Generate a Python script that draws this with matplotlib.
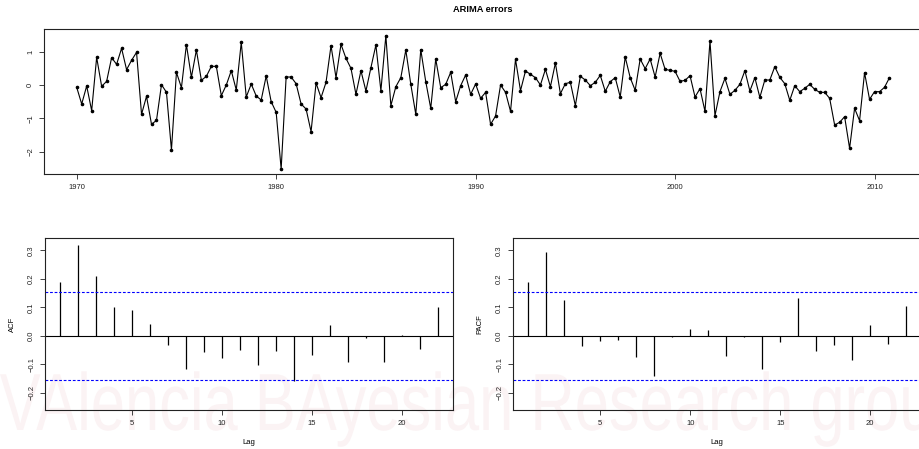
import numpy as np
import matplotlib
matplotlib.use("Agg")
import matplotlib.pyplot as plt
from matplotlib.textpath import TextPath
from matplotlib.patches import PathPatch
from matplotlib.font_manager import FontProperties
from matplotlib.transforms import Affine2D, IdentityTransform

plt.rcParams['font.family'] = ['Liberation Sans', 'DejaVu Sans']

# ---- data ----
start_year = 1970
freq = 4
errors = [
    -0.07, -0.57, -0.03, -0.77, 0.83, -0.04, 0.11, 0.82, 0.62, 1.10,
    0.46, 0.74, 0.98, -0.88, -0.34, -1.18, -1.06, 0.01, -0.22, -1.95,
    0.38, -0.08, 1.21, 0.23, 1.05, 0.14, 0.26, 0.56, 0.56, -0.32,
    0.00, 0.43, -0.15, 1.28, -0.36, 0.03, -0.33, -0.45, 0.27, -0.50,
    -0.82, -2.52, 0.24, 0.24, 0.04, -0.57, -0.72, -1.40, 0.06, -0.38,
    0.08, 1.18, 0.22, 1.22, 0.80, 0.50, -0.28, 0.43, -0.18, 0.52,
    1.20, -0.17, 1.48, -0.62, -0.05, 0.22, 1.05, 0.02, -0.88, 1.06,
    0.10, -0.70, 0.78, -0.08, 0.02, 0.38, -0.50, -0.02, 0.30, -0.28,
    0.03, -0.40, -0.22, -1.18, -0.93, 0.00, -0.22, -0.79, 0.77, -0.17,
    0.42, 0.32, 0.22, 0.00, 0.47, -0.05, 0.66, -0.26, 0.04, 0.08,
    -0.62, 0.26, 0.15, -0.02, 0.08, 0.29, -0.19, 0.10, 0.22, -0.36,
    0.84, 0.22, -0.16, 0.78, 0.49, 0.78, 0.24, 0.95, 0.47, 0.44,
    0.41, 0.11, 0.14, 0.28, -0.36, -0.11, -0.79, 1.32, -0.92, -0.20,
    0.20, -0.28, -0.16, 0.02, 0.43, -0.18, 0.22, -0.37, 0.15, 0.15,
    0.55, 0.23, 0.04, -0.46, -0.02, -0.20, -0.10, 0.02, -0.13, -0.22,
    -0.22, -0.40, -1.20, -1.12, -0.95, -1.90, -0.70, -1.07, 0.37, -0.43,
    -0.20, -0.20, -0.07, 0.22,
]
lags = list(range(1, 23))
acf_vals = [0.189, 0.320, 0.209, 0.103, 0.091, 0.043, -0.032, -0.116, -0.055, -0.076,
            -0.050, -0.102, -0.053, -0.157, -0.068, 0.039, -0.090, -0.009, -0.091, 0.003,
            -0.046, 0.101]
pacf_vals = [0.189, 0.295, 0.125, -0.036, -0.019, -0.013, -0.073, -0.141, -0.005, 0.025,
             0.021, -0.072, -0.005, -0.117, -0.020, 0.134, -0.053, -0.033, -0.086, 0.039,
             -0.027, 0.106]
year_ticks = [1970, 1980, 1990, 2000, 2010]
ts_yticks = [-2, -1, 0, 1]
acf_yticks = [-0.2, -0.1, 0.0, 0.1, 0.2, 0.3]
lag_ticks = [5, 10, 15, 20]
title = "ARIMA errors"
watermark = "VAlencia BAyesian Research group"

W, H = 920, 449
fig = plt.figure(figsize=(W / 100, H / 100), dpi=100)


def rect(l, t, r, b):
    return [l / W, 1 - b / H, (r - l) / W, (b - t) / H]


FS = 5.5

# watermark: text outline scaled to the reference's proportions (pixel coords)
tp = TextPath((0, 0), watermark, size=1, prop=FontProperties(family='Liberation Sans'))
ext = tp.get_extents()
target_w = 965.0
cap_h = 58.0
sx = target_w / ext.width
sy = cap_h / 0.716
wm_tr = Affine2D().translate(-ext.x0, 0).scale(sx, sy).translate(0, H - 430)
wm = PathPatch(wm_tr.transform_path(tp), facecolor='#fbf3f4', edgecolor='none',
               transform=IdentityTransform(), zorder=-5)
fig.add_artist(wm)


def style(ax):
    ax.set_facecolor('none')
    for s in ax.spines.values():
        s.set_linewidth(0.8)
        s.set_color('#222222')
    ax.tick_params(direction='out', length=3.6, width=0.6, labelsize=FS, pad=3.5,
                   colors='#222222')


# ---- top: time series ----
ax1 = fig.add_axes(rect(44, 29, 922, 174))
style(ax1)
t = start_year + np.arange(len(errors)) / freq
ax1.plot(t, errors, color='black', lw=0.8, marker='o', ms=1.6, mfc='black', mec='black')
ax1.set_xlim(1968.36, 2012.38)
ax1.set_ylim(-2.67, 1.68)
ax1.set_xticks(year_ticks)
ax1.set_xticklabels([str(y) for y in year_ticks])
ax1.set_yticks(ts_yticks)
ax1.set_yticklabels([str(v) if v >= 0 else "\u2212%d" % abs(v) for v in ts_yticks])
for lab in ax1.get_yticklabels():
    lab.set_rotation(90)
    lab.set_va('center')
ax1.set_title(title, fontsize=6.7, fontweight='bold', pad=12)

n = len(errors)
ci = 1.96 / np.sqrt(n)


def corr_panel(ax, vals, ylabel):
    style(ax)
    ax.vlines(lags, 0, vals, color='black', lw=0.9)
    ax.axhline(0, color='black', lw=0.8)
    ax.axhline(ci, color='blue', lw=0.8, linestyle=(0, (2.5, 1.6)))
    ax.axhline(-ci, color='blue', lw=0.8, linestyle=(0, (2.5, 1.6)))
    ax.set_xlim(0.16, 22.84)
    ax.set_ylim(-0.26, 0.3437)
    ax.set_xticks(lag_ticks)
    ax.set_xticklabels([str(v) for v in lag_ticks])
    ax.set_yticks(acf_yticks)
    ax.set_yticklabels(["%.1f" % v if v >= 0 else "\u2212%.1f" % abs(v) for v in acf_yticks])
    for lab in ax.get_yticklabels():
        lab.set_rotation(90)
        lab.set_va('center')
    ax.set_xlabel('Lag', fontsize=FS, labelpad=9)
    ax.set_ylabel(ylabel, fontsize=FS, labelpad=9)


ax2 = fig.add_axes(rect(45, 238, 453, 410))
corr_panel(ax2, acf_vals, 'ACF')
ax3 = fig.add_axes(rect(513, 238, 921.4, 410))
corr_panel(ax3, pacf_vals, 'PACF')

fig.savefig('out.png', dpi=100)
